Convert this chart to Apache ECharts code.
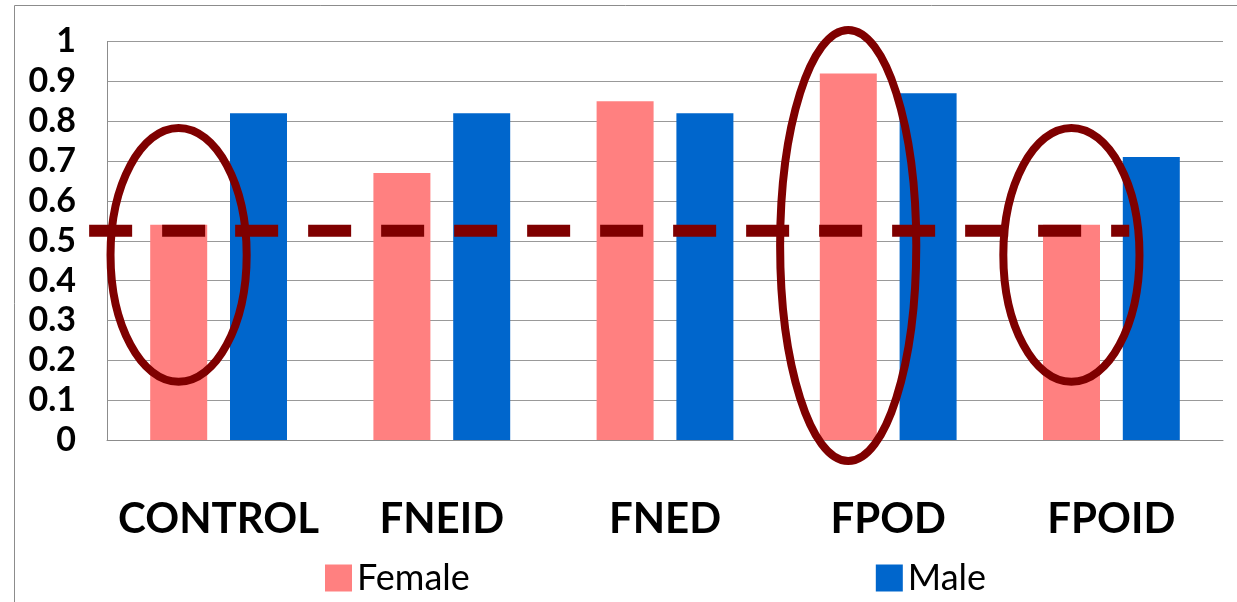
<!DOCTYPE html>
<html>
<head>
<meta charset="utf-8">
<script src="https://cdn.jsdelivr.net/npm/echarts@6/dist/echarts.min.js"></script>
<style>
  html, body { margin: 0; padding: 0; background: #fff; }
  #chart { width: 1237px; height: 602px; }
</style>
</head>
<body>
<div id="chart"></div>
<script>
// data
var categories = ['CONTROL', 'FNEID', 'FNED', 'FPOD', 'FPOID'];
var femaleValues = [0.54, 0.67, 0.85, 0.92, 0.54];
var maleValues = [0.82, 0.82, 0.82, 0.87, 0.71];
var yTicks = [0, 0.1, 0.2, 0.3, 0.4, 0.5, 0.6, 0.7, 0.8, 0.9, 1];
// annotations: dashed threshold and ellipses round the female bars
var thresholdValue = 0.525;
var circledCategories = ['CONTROL', 'FPOD', 'FPOID'];
var circledRanges = [[0.146, 0.783], [-0.053, 1.029], [0.146, 0.783]];

var chart = echarts.init(document.getElementById('chart'));
var darkRed = '#7f0000';

chart.setOption({
    animation: false,
    textStyle: { fontFamily: 'Lato' },
    grid: { left: 107, right: 14, top: 41.5, bottom: 162 },
    legend: {
        left: 320,
        top: 555,
        icon: 'rect',
        itemWidth: 27,
        itemHeight: 27,
        itemGap: 406,
        textStyle: { fontSize: 36, color: '#000', fontFamily: 'Lato' },
        data: ['Female', 'Male']
    },
    xAxis: {
        type: 'category',
        data: categories,
        axisLine: { lineStyle: { color: '#8c8c8c', width: 1 } },
        axisTick: { show: false },
        axisLabel: {
            interval: 0,
            margin: 58,
            fontSize: 42,
            fontWeight: 'bold',
            color: '#000',
            fontFamily: 'Lato'
        }
    },
    yAxis: {
        type: 'value',
        min: yTicks[0],
        max: yTicks[yTicks.length - 1],
        interval: 0.1,
        axisLine: { show: true, lineStyle: { color: '#8c8c8c', width: 1 } },
        axisTick: { show: false },
        splitLine: { lineStyle: { color: '#999', width: 1 } },
        axisLabel: {
            margin: 31,
            fontSize: 34,
            fontWeight: 'bold',
            color: '#000',
            fontFamily: 'Lato',
            padding: [8, 0, 0, 0],
            formatter: function (v) { return String(Math.round(v * 10) / 10); }
        }
    },
    series: [
        {
            name: 'Female',
            type: 'bar',
            data: femaleValues,
            barWidth: 57,
            barGap: '40%',
            itemStyle: { color: '#ff8080' }
        },
        {
            name: 'Male',
            type: 'bar',
            data: maleValues,
            barWidth: 57,
            itemStyle: { color: '#0066cc' }
        }
    ]
});

function drawAnnotations() {
    var band = chart.convertToPixel({ xAxisIndex: 0 }, categories[1]) - chart.convertToPixel({ xAxisIndex: 0 }, categories[0]);
    // female bar sits left of the category centre
    var femaleShift = -(57 + 23) / 2;
    var elements = [];

    // outer frame (top and left edges)
    elements.push({
        type: 'polyline',
        shape: { points: [[14.5, 602], [14.5, 5.5], [1237, 5.5]] },
        style: { stroke: '#8c8c8c', fill: null, lineWidth: 1 },
        z: 1
    });

    var yThr = chart.convertToPixel({ yAxisIndex: 0 }, thresholdValue);
    var xStart = chart.convertToPixel({ xAxisIndex: 0 }, categories[0]) - band * 0.58;
    var xEnd = chart.convertToPixel({ xAxisIndex: 0 }, categories[categories.length - 1]) + band * 0.08;
    elements.push({
        type: 'line',
        shape: { x1: xStart, y1: yThr, x2: xEnd, y2: yThr },
        style: { stroke: darkRed, lineWidth: 12, lineDash: [43, 30] },
        z: 100
    });

    circledCategories.forEach(function (cat, i) {
        var cx = chart.convertToPixel({ xAxisIndex: 0 }, cat) + femaleShift;
        var yLow = chart.convertToPixel({ yAxisIndex: 0 }, circledRanges[i][0]);
        var yHigh = chart.convertToPixel({ yAxisIndex: 0 }, circledRanges[i][1]);
        elements.push({
            type: 'ellipse',
            shape: { cx: cx, cy: (yLow + yHigh) / 2, rx: band * 0.305, ry: Math.abs(yLow - yHigh) / 2 },
            style: { stroke: darkRed, fill: null, lineWidth: 8 },
            z: 100
        });
    });

    chart.setOption({ graphic: elements });
}
drawAnnotations();
</script>
</body>
</html>
